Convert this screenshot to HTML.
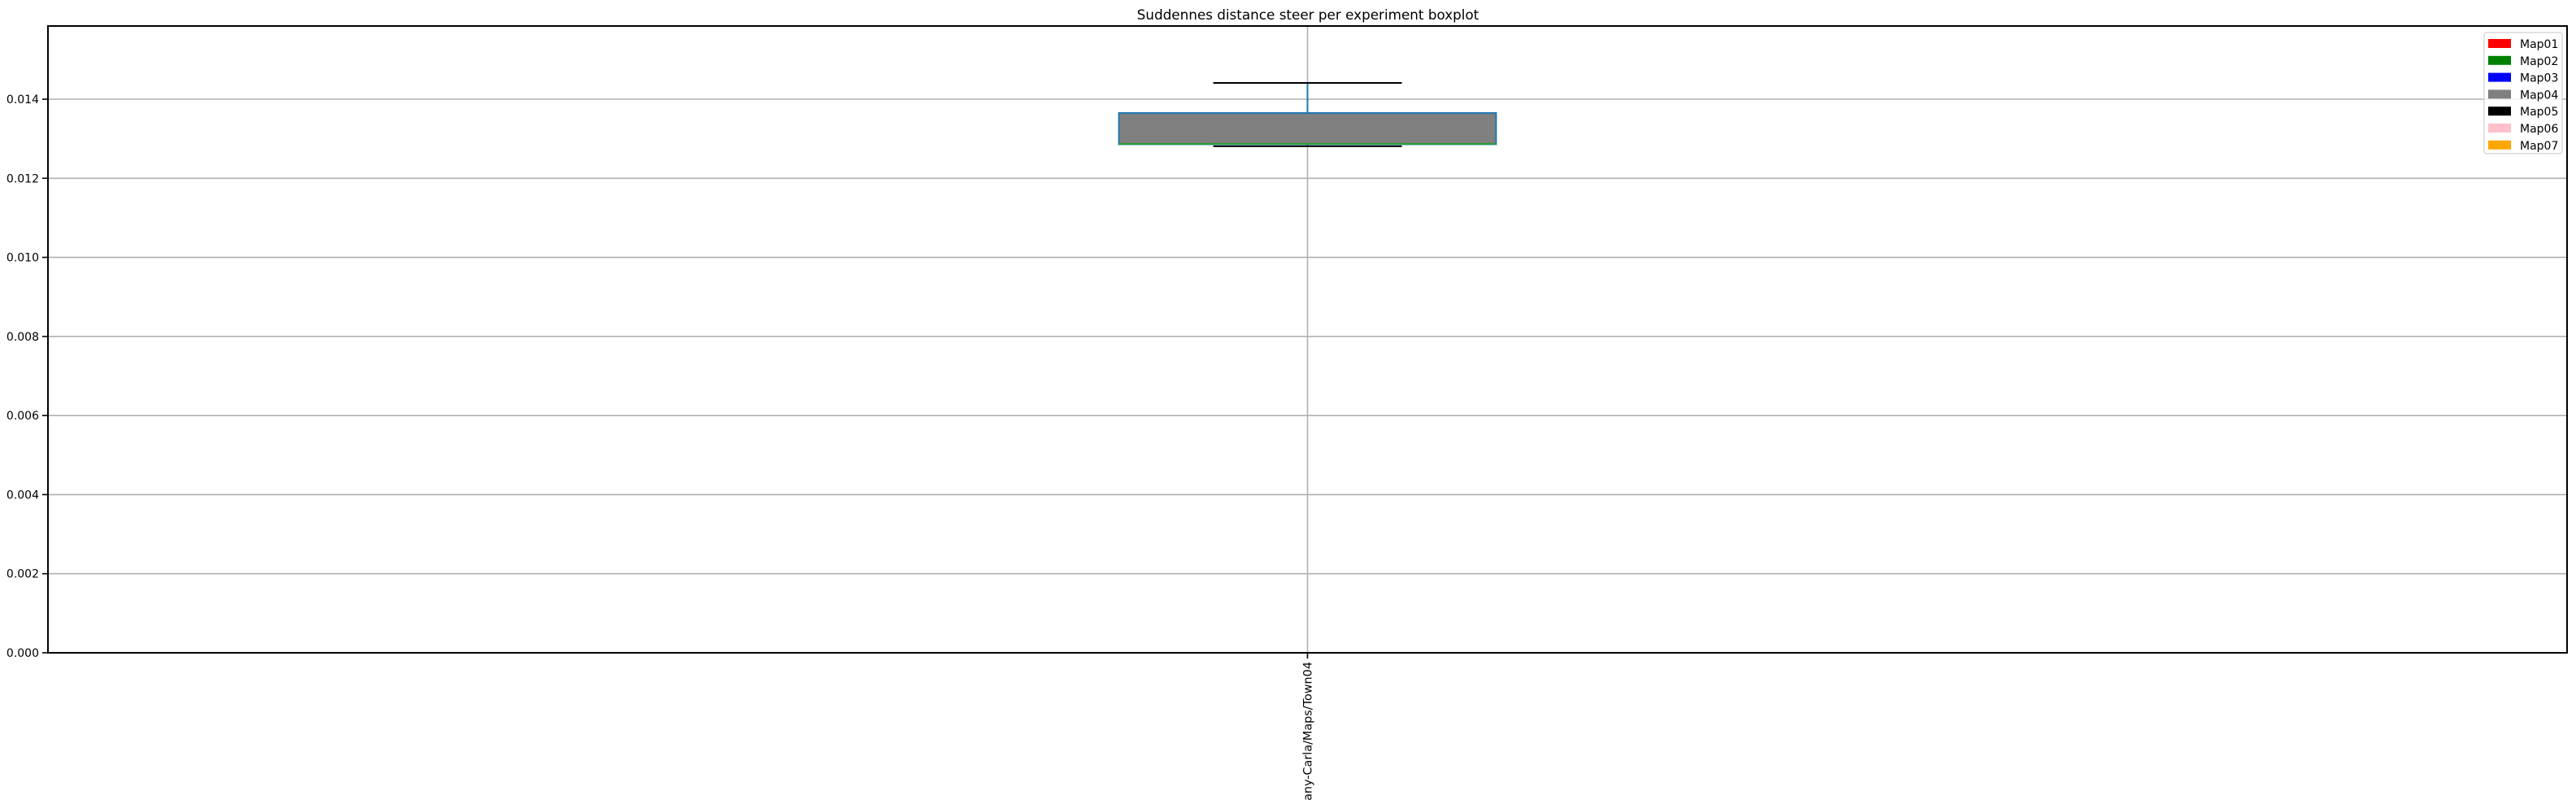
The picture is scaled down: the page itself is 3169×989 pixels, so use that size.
<!DOCTYPE html>
<html><head><meta charset="utf-8"><style>
body{margin:0;background:#fff;}
svg{display:block;font-family:"DejaVu Sans","Liberation Sans",sans-serif;}
</style></head><body>
<svg id="chart" width="3169" height="989" viewBox="0 0 3169 989" xmlns="http://www.w3.org/2000/svg">
<rect width="3169" height="989" fill="#fff"/>
<text x="1609" y="24" font-size="16.8" text-anchor="middle" fill="#000">Suddennes distance steer per experiment boxplot</text>
<g id="grid"></g>
<g id="boxes"></g>
<rect x="59" y="32" width="3099" height="771" fill="none" stroke="#000" stroke-width="2"/>
<g id="yticks"></g>
<g id="xticks"></g>
<g id="legend"></g>
</svg>
<script>
const categories = ["any-Carla/Maps/Town04"];
const whiskerLow = [0.01281];
const q1Values = [0.01286];
const medianValues = [0.01287];
const q3Values = [0.01365];
const whiskerHigh = [0.01441];
const yTickValues = [0, 0.002, 0.004, 0.006, 0.008, 0.010, 0.012, 0.014];
const yTickLabels = ["0.000","0.002","0.004","0.006","0.008","0.010","0.012","0.014"];
const legendLabels = ["Map01","Map02","Map03","Map04","Map05","Map06","Map07"];
const legendColors = ["red","green","blue","gray","black","pink","orange"];

const NS="http://www.w3.org/2000/svg";
const X0=59,X1=3158,Y0=803,Y1=32,YMAX=0.01585;
const y=v=>Y0-(v/YMAX)*(Y0-Y1);
const x=i=>X0+(i+0.5)*(X1-X0)/categories.length;
function mk(tag,attrs,parent){const e=document.createElementNS(NS,tag);for(const k in attrs)e.setAttribute(k,attrs[k]);document.getElementById(parent).appendChild(e);return e;}

yTickValues.forEach((v,i)=>{
  const gl=mk('line',{x1:X0,x2:X1,y1:y(v),y2:y(v),stroke:'#b0b0b0','stroke-width':1.6},'grid');
  
  
  const t=mk('line',{x1:X0-7,x2:X0,y1:y(v),y2:y(v),stroke:'#000','stroke-width':1.6},'yticks');
  
  
  const l=mk('text',{x:X0-11,y:y(v)+5,'font-size':14,'text-anchor':'end',fill:'#000'},'yticks');
  l.textContent=yTickLabels[i];
  
  
});
categories.forEach((c,i)=>{
  const cx=x(i);
  const gl=mk('line',{x1:cx,x2:cx,y1:Y1,y2:Y0,stroke:'#b0b0b0','stroke-width':1.6},'grid');
  
  
  const hw=232,cw=116;
  const w1=mk('line',{x1:cx,x2:cx,y1:y(q3Values[i]),y2:y(whiskerHigh[i]),stroke:'#1f77b4','stroke-width':2},'boxes');
  
  
  const w2=mk('line',{x1:cx,x2:cx,y1:y(q1Values[i]),y2:y(whiskerLow[i]),stroke:'#1f77b4','stroke-width':2},'boxes');
  
  
  const b=mk('rect',{x:cx-hw,y:y(q3Values[i]),width:2*hw,height:Math.max(1,y(q1Values[i])-y(q3Values[i])),fill:'#808080',stroke:'#1f77b4','stroke-width':2},'boxes');
  
  
  const m=mk('line',{x1:cx-hw,x2:cx+hw,y1:y(medianValues[i]),y2:y(medianValues[i]),stroke:'#2ca02c','stroke-width':2},'boxes');
  
  
  const c1=mk('line',{x1:cx-cw,x2:cx+cw,y1:y(whiskerHigh[i]),y2:y(whiskerHigh[i]),stroke:'#000','stroke-width':2},'boxes');
  
  
  const c2=mk('line',{x1:cx-cw,x2:cx+cw,y1:y(whiskerLow[i]),y2:y(whiskerLow[i]),stroke:'#000','stroke-width':2},'boxes');
  
  
  const t=mk('line',{x1:cx,x2:cx,y1:Y0,y2:Y0+7,stroke:'#000','stroke-width':1.6},'xticks');
  
  
  const l=mk('text',{x:0,y:0,'font-size':14.4,'text-anchor':'end',fill:'#000',transform:`translate(${cx+5},${Y0+11}) rotate(-90)`},'xticks');
  l.textContent=c;
  
  
});
const lf=mk('rect',{x:3056,y:40,width:96,height:149,fill:'#fff','fill-opacity':0.8,stroke:'#d8d8d8','stroke-width':1.5,rx:3},'legend');


legendLabels.forEach((lab,i)=>{
  const yy=50+i*20.8;
  const p=mk('rect',{x:3061,y:yy-2,width:28,height:11,fill:legendColors[i]},'legend');
  
  
  const t=mk('text',{x:3100,y:yy+9,'font-size':14,fill:'#000'},'legend');
  t.textContent=lab;
  
  
});
</script>
</body></html>
